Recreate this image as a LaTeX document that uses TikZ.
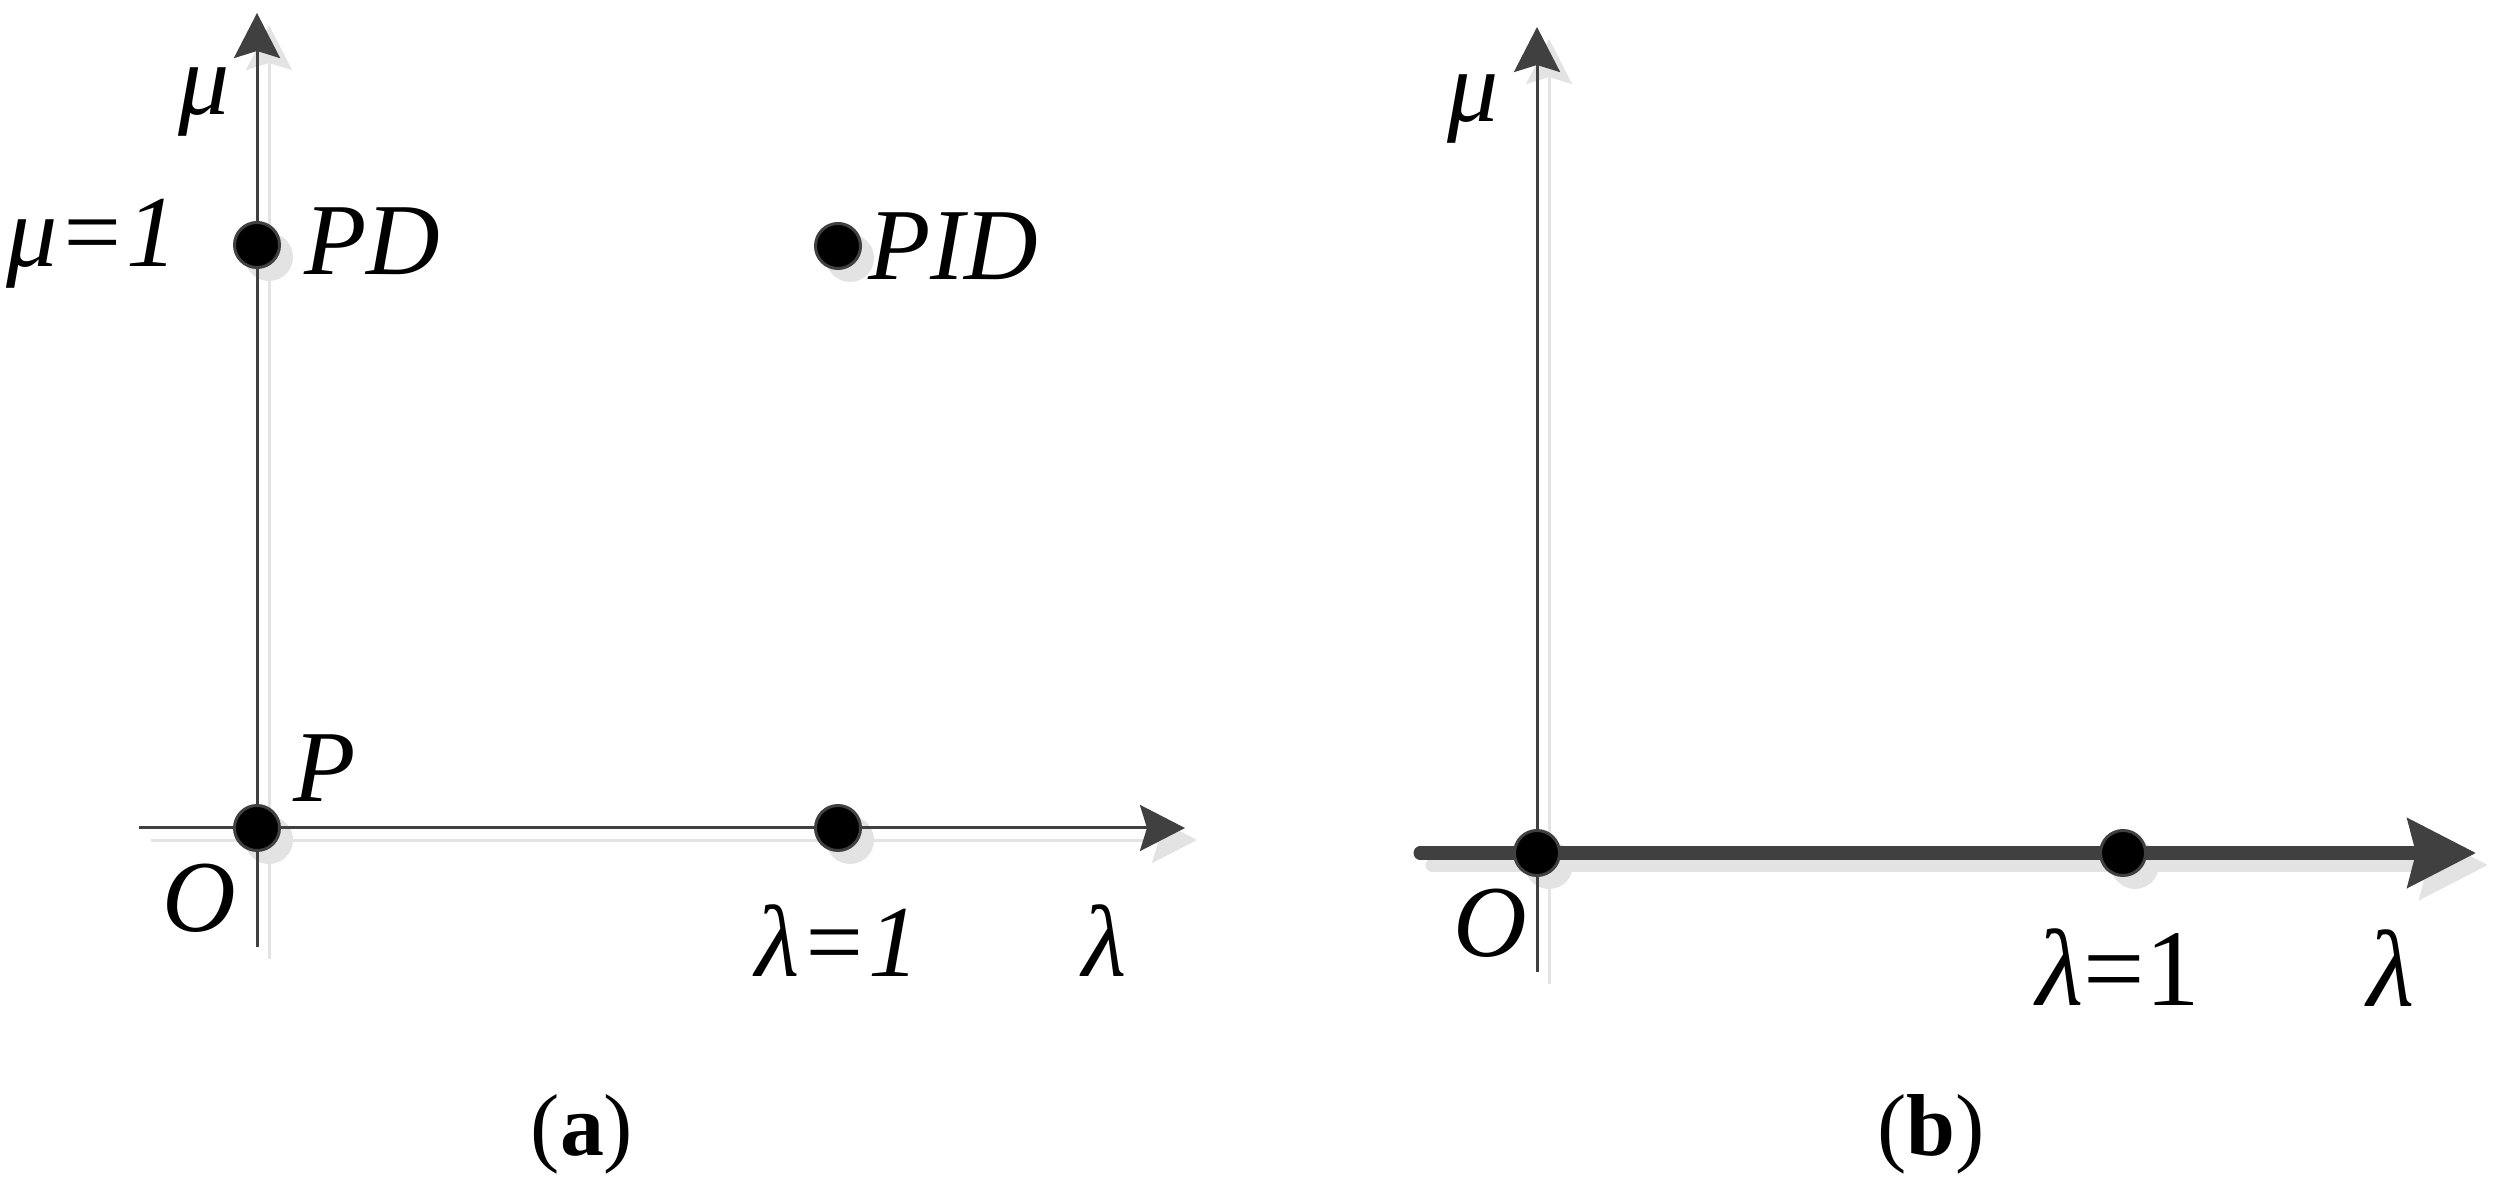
\documentclass[tikz,border=0pt]{standalone}
\usepackage{fontspec}
\setmainfont{Liberation Serif}
\usetikzlibrary{arrows.meta}
\definecolor{axc}{HTML}{404040}
\definecolor{shc}{HTML}{E3E3E3}
\begin{document}
\begin{tikzpicture}[x=0.01cm,y=-0.01cm,
  thinax/.style={line width=0.03cm},
  thickax/.style={line width=0.13cm, line cap=round},
  tipa/.style={-{Stealth[length=0.45cm, width=0.46cm, inset=0.07cm]}},
  tipb/.style={-{Stealth[length=0.68cm, width=0.68cm, inset=0.08cm]}},
  dotnode/.style={circle, fill=black, draw=axc, line width=0.03cm, minimum size=0.45cm, inner sep=0pt},
  dotsh/.style={fill=shc},
  lbla/.style={font=\fontsize{29}{34}\selectfont\itshape, inner sep=0pt, anchor=base},
  lblb/.style={font=\fontsize{31}{36}\selectfont, inner sep=0pt, anchor=base},
  capt/.style={font=\fontsize{25}{30}\selectfont, inner sep=0pt, anchor=base}]
\useasboundingbox (0,0) rectangle (2503,1189);
% coordinates, panel (a)
\coordinate (ayb) at (257,947);
\coordinate (ayt) at (257,13);
\coordinate (axl) at (139,828);
\coordinate (axr) at (1185,828);
\coordinate (paO) at (257,828);
\coordinate (paPD) at (257,245);
\coordinate (paPID) at (838,246);
\coordinate (paL) at (838,828);
% coordinates, panel (b)
\coordinate (byb) at (1537,972);
\coordinate (byt) at (1537,27);
\coordinate (bxl) at (1420,853);
\coordinate (bxr) at (2476,853);
\coordinate (pbO) at (1537,853);
\coordinate (pbL) at (2123,853);
% shadows
\begin{scope}[transform canvas={shift={(0.12cm,-0.12cm)}}]
  \draw[thinax, tipa, draw=shc, fill=shc] (axl) -- (axr);
  \draw[thinax, tipa, draw=shc, fill=shc] (ayb) -- (ayt);
  \draw[thinax, tipa, draw=shc, fill=shc] (byb) -- (byt);
  \draw[thickax, tipb, draw=shc, fill=shc] (bxl) -- (bxr);
  \foreach \p in {paO,paPD,paPID,paL,pbO,pbL}
    \fill[dotsh] (\p) circle[radius=0.24cm];
\end{scope}
% axes
\draw[thinax, tipa, draw=axc, fill=axc] (axl) -- (axr);
\draw[thinax, tipa, draw=axc, fill=axc] (ayb) -- (ayt);
\draw[thinax, tipa, draw=axc, fill=axc] (byb) -- (byt);
\draw[thickax, tipb, draw=axc, fill=axc] (bxl) -- (bxr);
% dots
\node[dotnode] (aO) at (paO) {};
\node[dotnode] (aPD) at (paPD) {};
\node[dotnode] (aPID) at (paPID) {};
\node[dotnode] (aL) at (paL) {};
\node[dotnode] (bO) at (pbO) {};
\node[dotnode] (bL) at (pbL) {};
% labels (a)
\node[lbla] (amu) at (204,115) {μ};
\node[lbla] (amu1) at (92,267) {μ=1};
\node[lbla] (tPD) at (372,275) {PD};
\node[lbla] (tPID) at (953,280) {PID};
\node[lbla] (tP) at (325,802) {P};
\node[lbla] (taO) at (199,932) {O};
\node[lbla] (tal1) at (837,977) {λ=1};
\node[lbla] (tal) at (1105,977) {λ};
\node[capt] (capa) at (582,1155) {(\textbf{a})};
% labels (b)
\node[lbla] (bmu) at (1473,122) {μ};
\node[lbla] (tbO) at (1490,957) {O};
\node[lblb] (tbl1) at (2118,1005) {\textit{λ}=1};
\node[lblb] (tbl) at (2391,1006) {\textit{λ}};
\node[capt] (capb) at (1931,1155) {(\textbf{b})};
\end{tikzpicture}
\end{document}
